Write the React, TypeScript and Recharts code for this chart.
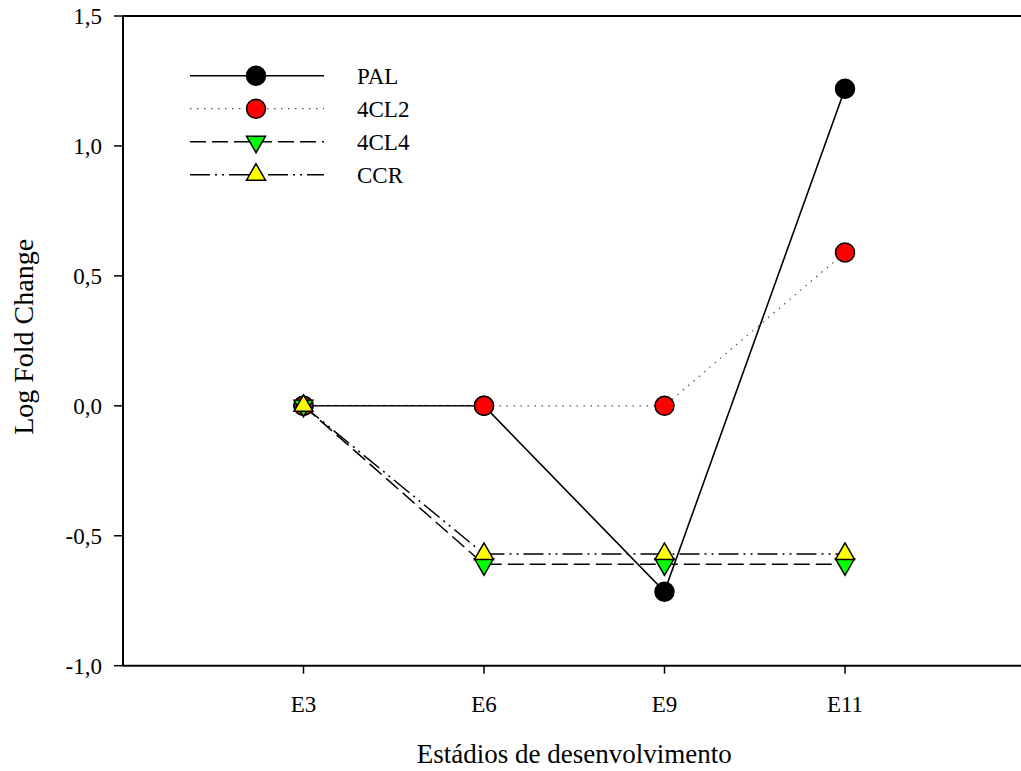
import React from 'react';
import { LineChart, Line, XAxis, YAxis, ReferenceLine, Legend } from 'recharts';

// Developmental stages and log fold change per gene
const stages = ['E3', 'E6', 'E9', 'E11'];
const palValues = [0, 0, -0.715, 1.22];
const cl2Values = [0, 0, 0, 0.59];
const cl4Values = [0, -0.61, -0.61, -0.61];
const ccrValues = [0, -0.57, -0.57, -0.57];
const yTicks = [-1, -0.5, 0, 0.5, 1, 1.5];

type MarkerKind = 'circle' | 'triangleUp' | 'triangleDown';

interface SeriesDef {
  key: string;
  name: string;
  values: number[];
  fill: string;
  marker: MarkerKind;
  dash?: string;
  stroke: string;
  width: number;
}

const series: SeriesDef[] = [
  { key: 'pal', name: 'PAL', values: palValues, fill: '#000000', marker: 'circle', stroke: '#000', width: 1.6 },
  { key: 'cl2', name: '4CL2', values: cl2Values, fill: '#FF0000', marker: 'circle', dash: '1.5 5.5', stroke: '#555', width: 1.2 },
  { key: 'cl4', name: '4CL4', values: cl4Values, fill: '#00FF00', marker: 'triangleDown', dash: '16 6', stroke: '#000', width: 1.5 },
  { key: 'ccr', name: 'CCR', values: ccrValues, fill: '#FFFF00', marker: 'triangleUp', dash: '20 5 2 5 2 5', stroke: '#000', width: 1.5 },
];

const data = stages.map((stage, i) => {
  const row: Record<string, number | string> = { x: i + 1, stage };
  series.forEach((s) => {
    row[s.key] = s.values[i];
  });
  return row;
});

const FONT = '"Liberation Serif", "Times New Roman", serif';

function Marker({ cx, cy, kind, fill }: { cx: number; cy: number; kind: MarkerKind; fill: string }) {
  if (kind === 'circle') {
    return <circle cx={cx} cy={cy} r={9.5} fill={fill} stroke="#000" strokeWidth={1.5} />;
  }
  const side = 19;
  const h = (side * Math.sqrt(3)) / 2;
  const far = (2 * h) / 3;
  const near = h / 3;
  const pts =
    kind === 'triangleUp'
      ? `${cx},${cy - far} ${cx - side / 2},${cy + near} ${cx + side / 2},${cy + near}`
      : `${cx},${cy + far} ${cx - side / 2},${cy - near} ${cx + side / 2},${cy - near}`;
  return <polygon points={pts} fill={fill} stroke="#000" strokeWidth={1.5} strokeLinejoin="miter" />;
}

function LegendBox() {
  const rowGap = 33;
  return (
    <svg width={260} height={140} style={{ overflow: 'visible', display: 'block' }}>
      {series.map((s, i) => {
        const y = 17.7 + i * rowGap;
        return (
          <g key={s.key}>
            <line x1={5} x2={139} y1={y} y2={y} stroke={s.stroke} strokeWidth={s.width} strokeDasharray={s.dash} />
            <Marker cx={71} cy={y} kind={s.marker} fill={s.fill} />
            <text x={172} y={y + 8.5} fontSize={23} fontFamily={FONT} fill="#000">
              {s.name}
            </text>
          </g>
        );
      })}
    </svg>
  );
}

export default function App() {
  return (
    <div style={{ position: 'absolute', left: 0, top: 0, width: 1021, height: 771, overflow: 'hidden', background: '#fff' }}>
      <LineChart
        width={1030}
        height={771}
        data={data}
        margin={{ top: 16, right: 4.5, bottom: 0, left: 0 }}
        style={{ fontFamily: FONT }}
      >
        <XAxis
          dataKey="x"
          type="number"
          domain={[0, 5]}
          ticks={[1, 2, 3, 4]}
          tickFormatter={(v: number) => stages[v - 1] ?? ''}
          allowDataOverflow
          height={105.3}
          axisLine={{ stroke: '#000', strokeWidth: 2 }}
          tickLine={{ stroke: '#000', strokeWidth: 1.5 }}
          tickSize={8}
          tickMargin={22}
          tick={{ fontSize: 23, fill: '#000', fontFamily: FONT }}
          label={{ value: 'Estádios de desenvolvimento', position: 'insideBottom', offset: 8, fontSize: 27, fill: '#000', fontFamily: FONT }}
        />
        <YAxis
          type="number"
          domain={[-1, 1.5]}
          ticks={yTicks}
          tickFormatter={(v: number) => v.toFixed(1).replace('.', ',')}
          allowDataOverflow
          width={123}
          axisLine={{ stroke: '#000', strokeWidth: 2 }}
          tickLine={{ stroke: '#000', strokeWidth: 1.5 }}
          tickSize={9}
          tickMargin={12}
          tick={{ fontSize: 23, fill: '#000', fontFamily: FONT }}
          label={{
            content: (props: any) => {
              const vb = props.viewBox || { x: 0, y: 16, width: 123, height: 649.7 };
              const cy = vb.y + vb.height / 2 - 4;
              const cx = 33;
              return (
                <text
                  x={cx}
                  y={cy}
                  transform={`rotate(-90 ${cx} ${cy})`}
                  textAnchor="middle"
                  fontSize={28}
                  fontFamily={FONT}
                  fill="#000"
                >
                  Log Fold Change
                </text>
              );
            },
          }}
        />
        <ReferenceLine y={1.5} stroke="#000" strokeWidth={2} />
        <ReferenceLine x={5} stroke="#000" strokeWidth={2} />
        <Legend
          layout="vertical"
          align="center"
          verticalAlign="middle"
          wrapperStyle={{ left: 185, top: 58, width: 260 }}
          content={() => <LegendBox />}
        />
        {series.map((s) => (
          <Line
            key={s.key}
            dataKey={s.key}
            name={s.name}
            type="linear"
            stroke={s.stroke}
            strokeWidth={s.width}
            strokeDasharray={s.dash}
            isAnimationActive={false}
            dot={(p: any) => <Marker key={`${s.key}-${p.index}`} cx={p.cx} cy={p.cy} kind={s.marker} fill={s.fill} />}
            activeDot={false}
          />
        ))}
      </LineChart>
    </div>
  );
}
